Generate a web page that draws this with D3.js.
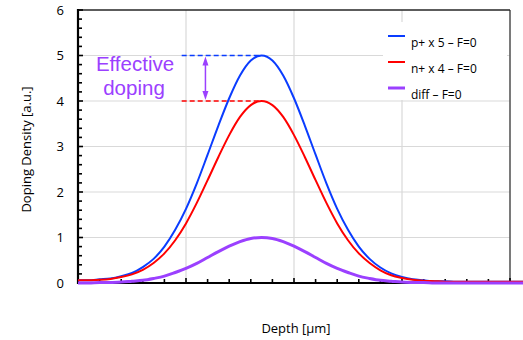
<!DOCTYPE html>
<html><head><meta charset="utf-8">
<script src="https://cdn.jsdelivr.net/npm/d3@7"></script>
<style>
body{margin:0;background:#fff;}
svg{display:block;}
</style></head>
<body>
<svg id="c" width="523" height="340"></svg>
<script>
// ---- data ----
const depth = [0.0,0.1,0.2,0.3,0.4,0.5,0.6,0.7,0.8,0.9,1.0,1.1,1.2,1.3,1.4,1.5,1.6,1.7,1.8,1.9,2.0,2.1,2.2,2.3,2.4,2.5,2.6,2.7,2.8,2.9,3.0,3.1,3.2,3.3,3.4,3.5,3.6,3.7,3.8,3.9,4.0,4.1,4.2];
const pPlus = [0.06,0.06,0.08,0.10,0.15,0.22,0.35,0.53,0.80,1.17,1.63,2.19,2.82,3.46,4.06,4.56,4.89,5.00,
               4.89,4.56,4.06,3.46,2.82,2.19,1.63,1.17,0.80,0.53,0.34,0.21,0.13,0.08,0.06,0.04,0.04,
               0.03,0.03,0.03,0.03,0.03,0.03,0.03,0.03];
const nPlus = [0.06,0.06,0.07,0.09,0.13,0.19,0.29,0.44,0.65,0.94,1.31,1.76,2.26,2.77,3.25,3.65,3.91,4.00,
               3.91,3.65,3.25,2.77,2.26,1.76,1.31,0.94,0.65,0.44,0.28,0.17,0.11,0.07,0.05,0.04,0.03,
               0.03,0.03,0.03,0.03,0.03,0.03,0.03,0.03];
const diff  = [0.00,0.00,0.01,0.01,0.02,0.04,0.06,0.10,0.15,0.23,0.32,0.43,0.56,0.69,0.81,0.91,0.98,1.00,
               0.98,0.91,0.81,0.69,0.56,0.43,0.32,0.23,0.15,0.10,0.06,0.04,0.02,0.01,0.01,0.00,0.00,
               0,0,0,0,0,0,0,0];
const seriesNames = ["p+ x 5 \u2013 F=0","n+ x 4 \u2013 F=0","diff \u2013 F=0"];
const yTicks = [0,1,2,3,4,5,6];
const xMajor = [0,1,2,3,4];
const annotLabel = ["Effective","doping"];
const dashStartDepth = 0.96;   // where the dashed level lines start
const arrowDepth = 1.18;       // where the double arrow sits
const peakDepth = 1.7;
const xTitle = "Depth [\u00b5m]";
const yTitle = "Doping Density [a.u.]";

// ---- layout ----
const svg = d3.select("#c");
const L = 78, R = 510, T = 10, B = 283;
const x = d3.scaleLinear().domain([0,4]).range([L,R]);
const y = d3.scaleLinear().domain([0,6]).range([B,T]);
const colors = ["#0a3cff","#ff0000","#9b40ff"];
const widths = [2,2,3];
const blueC = colors[0], redC = colors[1], purC = colors[2];
const tickFont = "'Open Sans', sans-serif";

// gridlines
const g = svg.append("g");
g.selectAll(".hg").data(yTicks.filter(v=>v>0 && v<6)).enter().append("line")
  .attr("x1",L).attr("x2",R).attr("y1",d=>y(d)).attr("y2",d=>y(d))
  .attr("stroke","#d9d9d9").attr("stroke-width",1.2);
g.selectAll(".vg").data(xMajor.filter(v=>v>0 && v<4)).enter().append("line")
  .attr("x1",d=>x(d)).attr("x2",d=>x(d)).attr("y1",T).attr("y2",B)
  .attr("stroke","#d9d9d9").attr("stroke-width",1.2);
// right dark line and top border
g.append("line").attr("x1",x(4)).attr("x2",x(4)).attr("y1",T).attr("y2",B)
  .attr("stroke","#595959").attr("stroke-width",1.6);
g.append("line").attr("x1",L).attr("x2",R).attr("y1",T).attr("y2",T)
  .attr("stroke","#262626").attr("stroke-width",1.6);

// legend background (covers gridlines)
svg.append("rect").attr("x",383).attr("y",22).attr("width",124).attr("height",78).attr("fill","#fff");

// axes
const yMinor = d3.range(0,6.001,0.2);
const xMinor = d3.range(0,4.21,0.2);
const ax = svg.append("g");
ax.append("line").attr("x1",L).attr("x2",523).attr("y1",B).attr("y2",B).attr("stroke","#000").attr("stroke-width",2.2);
ax.selectAll(".ymt").data(yMinor).enter().append("line")
  .attr("x1",L).attr("x2",d=>L+ (Math.abs(d-Math.round(d))<1e-6?5:4))
  .attr("y1",d=>y(d)).attr("y2",d=>y(d)).attr("stroke","#000").attr("stroke-width",1.6);
ax.selectAll(".xmt").data(xMinor).enter().append("line")
  .attr("x1",d=>x(d)).attr("x2",d=>x(d))
  .attr("y1",B).attr("y2",d=>B-(Math.abs(d-Math.round(d))<1e-6?5:4))
  .attr("stroke","#000").attr("stroke-width",1.6);
ax.append("line").attr("x1",L).attr("x2",L).attr("y1",T-1).attr("y2",B+1).attr("stroke","#000").attr("stroke-width",2.2);

ax.selectAll(".yl").data(yTicks).enter().append("text")
  .attr("x",64).attr("y",d=>y(d)).attr("dy","0.35em").attr("text-anchor","end")
  .attr("font-family",tickFont).attr("font-size",13).attr("fill","#000").text(d=>d);

// titles
svg.append("text").attr("transform",`translate(31,${(T+B)/2+3}) rotate(-90)`)
  .attr("text-anchor","middle").attr("font-family",tickFont).attr("font-size",13).text(yTitle);
svg.append("text").attr("x",296).attr("y",333).attr("text-anchor","middle")
  .attr("font-family",tickFont).attr("font-size",13).text(xTitle);

// curves
const series = [pPlus,nPlus,diff];
const line = d3.line().x((d,i)=>x(depth[i])).y(d=>y(d)).curve(d3.curveMonotoneX);
series.forEach((s,k)=>{
  svg.append("path").datum(s).attr("d",line).attr("fill","none")
    .attr("stroke",colors[k]).attr("stroke-width",widths[k]);
});

// dashed level lines
const pMax = d3.max(pPlus), nMax = d3.max(nPlus);
svg.append("line").attr("x1",x(dashStartDepth)).attr("x2",x(peakDepth)).attr("y1",y(pMax)).attr("y2",y(pMax))
  .attr("stroke",blueC).attr("stroke-width",1.6).attr("stroke-dasharray","5,3");
svg.append("line").attr("x1",x(dashStartDepth)).attr("x2",x(peakDepth)).attr("y1",y(nMax)).attr("y2",y(nMax))
  .attr("stroke",redC).attr("stroke-width",1.6).attr("stroke-dasharray","5,3");

// double arrow
const ax0 = x(arrowDepth), yTop = y(pMax)+1, yBot = y(nMax)-1;
svg.append("line").attr("x1",ax0).attr("x2",ax0).attr("y1",yTop+6).attr("y2",yBot-6)
  .attr("stroke",purC).attr("stroke-width",1.5);
svg.append("path").attr("d",`M${ax0},${yTop} L${ax0-3},${yTop+9} L${ax0+3},${yTop+9} Z`).attr("fill",purC);
svg.append("path").attr("d",`M${ax0},${yBot} L${ax0-3},${yBot-9} L${ax0+3},${yBot-9} Z`).attr("fill",purC);

// annotation text (two lines)
const aFont = "'Liberation Sans', Arial, sans-serif";
svg.append("text").attr("x",135).attr("y",71).attr("text-anchor","middle")
  .attr("font-family",aFont).attr("font-size",20.5).attr("fill",purC).text(annotLabel[0]);
svg.append("text").attr("x",134).attr("y",95).attr("text-anchor","middle")
  .attr("font-family",aFont).attr("font-size",20.5).attr("fill",purC).text(annotLabel[1]);

// legend
const lg = svg.append("g");
const lineYs = [36,62,88];
seriesNames.forEach((n,k)=>{
  lg.append("line").attr("x1",388).attr("x2",405).attr("y1",lineYs[k]).attr("y2",lineYs[k])
    .attr("stroke",colors[k]).attr("stroke-width",widths[k]);
  lg.append("text").attr("x",411).attr("y",lineYs[k]+10.5).attr("font-family",tickFont)
    .attr("font-size",12).attr("fill","#000").text(n);
});
</script>
</body></html>
